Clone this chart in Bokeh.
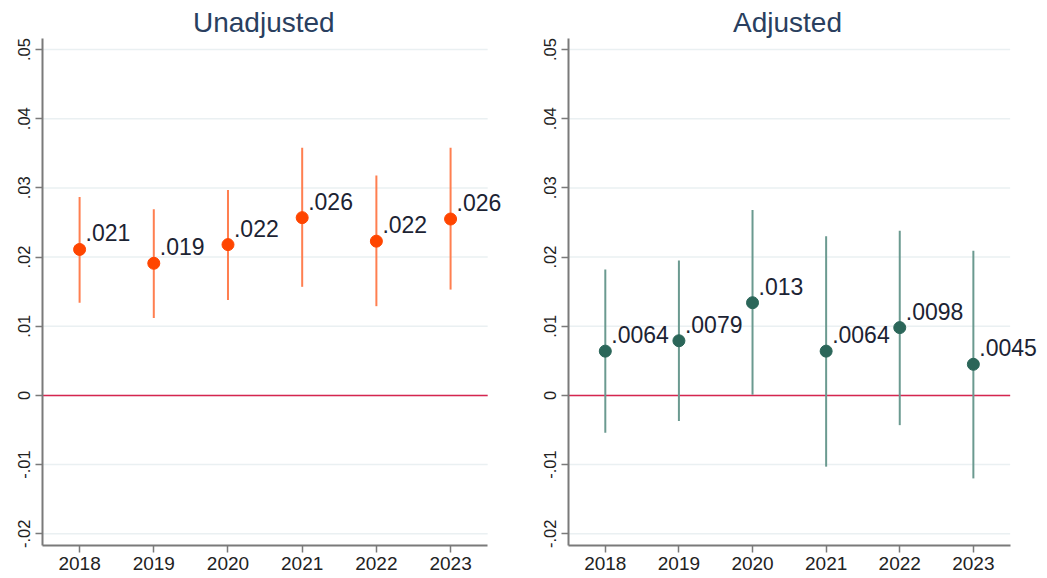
from bokeh.plotting import figure
from bokeh.layouts import row
from bokeh.models import Range1d, FixedTicker, ColumnDataSource, LabelSet
from bokeh.core.properties import value
from bokeh.embed import file_html
from bokeh.resources import INLINE

years = [2018, 2019, 2020, 2021, 2022, 2023]
year_labels = ["2018", "2019", "2020", "2021", "2022", "2023"]

unadj_est = [0.0211, 0.0191, 0.0218, 0.0257, 0.0223, 0.0255]
unadj_lo = [0.0134, 0.0112, 0.0138, 0.0157, 0.0129, 0.0153]
unadj_hi = [0.0287, 0.0269, 0.0297, 0.0358, 0.0318, 0.0358]
unadj_labels = [".021", ".019", ".022", ".026", ".022", ".026"]

adj_est = [0.0064, 0.0079, 0.0134, 0.0064, 0.0098, 0.0045]
adj_lo = [-0.0054, -0.0037, 0.0001, -0.0103, -0.0043, -0.0120]
adj_hi = [0.0182, 0.0195, 0.0268, 0.0230, 0.0238, 0.0209]
adj_labels = [".0064", ".0079", ".013", ".0064", ".0098", ".0045"]

y_ticks = [-0.02, -0.01, 0.0, 0.01, 0.02, 0.03, 0.04, 0.05]
y_tick_labels = ["-.02", "-.01", "0", ".01", ".02", ".03", ".04", ".05"]

FONT = "Liberation Sans"
X0, X1 = 2017.5, 2023.5   # axis extent


def panel(title, est, lo, hi, labels, dot_color, line_color, width, bl, br, x_end):
    p = figure(width=width, height=578, output_backend="svg", toolbar_location=None,
               x_range=Range1d(X0, x_end), y_range=Range1d(-0.0217, 0.0516),
               min_border_left=bl, min_border_right=br, min_border_top=38, min_border_bottom=33)
    p.title.text = title
    p.title.align = "left"
    p.title.text_font = FONT
    p.title.text_font_size = "28px"
    p.title.text_font_style = "normal"
    p.title.text_color = "#2a3f5f"
    p.title.standoff = 1
    p.outline_line_color = None
    p.background_fill_color = "white"
    p.border_fill_color = "white"

    p.xgrid.grid_line_color = None
    p.ygrid.grid_line_color = None
    # horizontal grid lines limited to the axis extent
    n = len(y_ticks)
    p.segment(x0=[X0] * n, y0=y_ticks, x1=[X1] * n, y1=y_ticks,
              line_color="#eaf0f2", line_width=1.5, level="underlay")
    # zero reference line
    p.segment(x0=[X0], y0=[0.0], x1=[X1], y1=[0.0], line_color="#d6264f", line_width=1.5)

    p.xaxis.ticker = FixedTicker(ticks=years)
    p.xaxis.major_label_overrides = {y: l for y, l in zip(years, year_labels)}
    p.xaxis.bounds = (X0, X1)
    p.yaxis.ticker = FixedTicker(ticks=y_ticks)
    p.yaxis.major_label_overrides = {t: l for t, l in zip(y_ticks, y_tick_labels)}
    p.yaxis.major_label_orientation = "vertical"
    for ax in (p.xaxis, p.yaxis):
        ax.axis_line_color = "#7a7a7a"
        ax.axis_line_width = 2
        ax.major_tick_line_color = "#7a7a7a"
        ax.major_tick_line_width = 1.5
        ax.major_tick_in = 0
        ax.minor_tick_line_color = None
        ax.major_label_text_font = FONT
        ax.major_label_text_color = "#222222"
    p.xaxis.major_tick_out = 7
    p.xaxis.major_label_standoff = 4
    p.xaxis.major_label_text_font_size = "19px"
    p.yaxis.major_tick_out = 7
    p.yaxis.major_label_standoff = 5
    p.yaxis.major_label_text_font_size = "16.5px"

    src = ColumnDataSource(dict(x=years, est=est, lo=lo, hi=hi, lab=labels))
    p.segment(x0="x", y0="lo", x1="x", y1="hi", source=src, line_color=line_color, line_width=2)
    p.scatter(x="x", y="est", source=src, size=12, fill_color=dot_color, line_color=dot_color)
    p.add_layout(LabelSet(x="x", y="est", text="lab", source=src, x_offset=6, y_offset=8,
                          text_font=value(FONT), text_font_size="23px", text_color="#1c2333",
                          text_baseline="alphabetic", text_align="left"))
    return p


p1 = panel("Unadjusted", unadj_est, unadj_lo, unadj_hi, unadj_labels,
           "#ff4500", "#ff7f50", 523, 42, 8, 2023.875)
p2 = panel("Adjusted", adj_est, adj_lo, adj_hi, adj_labels,
           "#2b6659", "#6b9a90", 524, 45, 2, 2023.98)

# centre titles over the axis extent rather than the widened frame
p1.title.offset = (487 - 42) / 2 - 72
p2.title.offset = (1009 - 568) / 2 - 56

layout = row(p1, p2)
open("out.html", "w").write(file_html(layout, INLINE))
